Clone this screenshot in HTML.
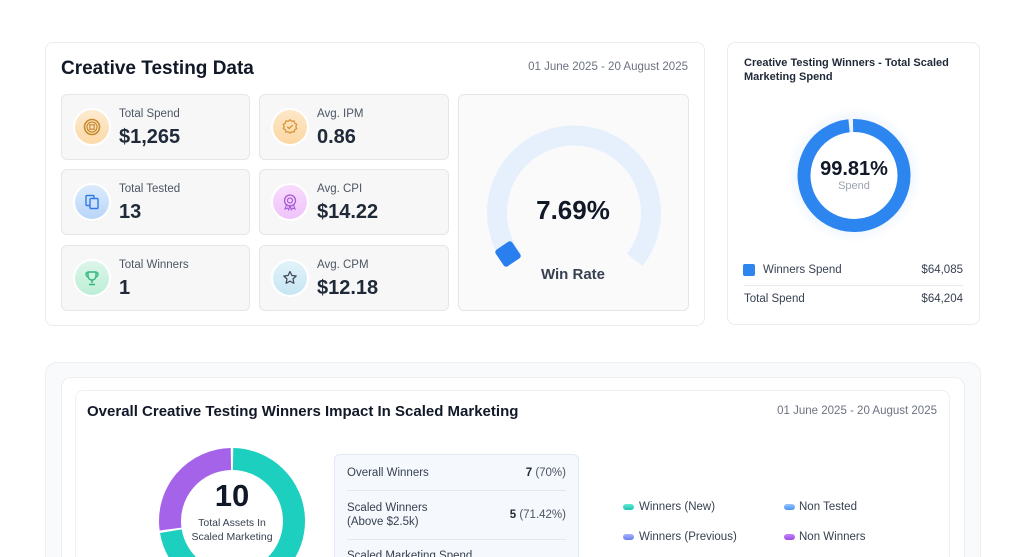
<!DOCTYPE html>
<html><head><meta charset="utf-8">
<style>
*{margin:0;padding:0;box-sizing:border-box}
html,body{width:1025px;height:557px;overflow:hidden;background:#fff;font-family:"Liberation Sans",sans-serif;}
#wrap{position:relative;width:1025px;height:557px;overflow:hidden}
.t{position:absolute;white-space:nowrap;line-height:1}
.card{position:absolute;background:#fff;border:1px solid #eaecef;border-radius:8px}
.stat{position:absolute;background:#f7f7f8;border:1px solid #e5e6e9;border-radius:6px;height:66px}
.ic{position:absolute;left:11px;top:13px;width:38px;height:38px;border-radius:50%;border:2px solid #fff;display:flex;align-items:center;justify-content:center}
.lbl{position:absolute;left:57px;top:12px;font-size:11.5px;color:#4b5563;line-height:14px;white-space:nowrap}
.val{position:absolute;left:57px;top:31px;font-size:20px;font-weight:bold;color:#1f2937;line-height:22px;white-space:nowrap}
.row{position:absolute;left:12px;right:12px;font-size:11.5px;color:#374151;line-height:14px}
.pill{position:absolute;width:11px;height:6px;border-radius:3px}
.lg{position:absolute;font-size:11.5px;color:#374151;line-height:14px;white-space:nowrap}
</style></head><body><div id="wrap">

<!-- Card 1 -->
<div class="card" style="left:45px;top:42px;width:660px;height:284px"></div>
<div class="t" style="left:61px;top:58px;font-size:19px;font-weight:bold;color:#111827;line-height:22px">Creative Testing Data</div>
<div class="t" style="right:337px;top:60px;font-size:11.5px;color:#6b7280;line-height:14px">01 June 2025 - 20 August 2025</div>

<div class="stat" style="left:61px;top:94px;width:189px">
  <div class="ic" style="background:linear-gradient(180deg,#fdebd0,#fcd9a8)">
    <svg width="18" height="18" viewBox="0 0 18 18"><circle cx="9" cy="9" r="7.5" fill="none" stroke="#c68a2e" stroke-width="1.6"/><circle cx="9" cy="9" r="5" fill="none" stroke="#c68a2e" stroke-width="1.2"/><rect x="6.8" y="6.8" width="4.4" height="4.4" fill="none" stroke="#c68a2e" stroke-width="1.2"/></svg>
  </div>
  <div class="lbl">Total Spend</div><div class="val">$1,265</div>
</div>
<div class="stat" style="left:61px;top:169px;width:189px">
  <div class="ic" style="background:linear-gradient(180deg,#dcebfd,#b9d5f9)">
    <svg width="18" height="18" viewBox="0 0 18 18"><rect x="3" y="2.5" width="8" height="10" rx="1" fill="none" stroke="#2f7be5" stroke-width="1.4"/><rect x="7" y="5.5" width="8" height="10" rx="1" fill="#cfe2fb" stroke="#2f7be5" stroke-width="1.4"/></svg>
  </div>
  <div class="lbl">Total Tested</div><div class="val">13</div>
</div>
<div class="stat" style="left:61px;top:245px;width:189px">
  <div class="ic" style="background:linear-gradient(180deg,#dcf6ea,#bdeed6)">
    <svg width="18" height="18" viewBox="0 0 18 18"><path d="M5 3h8v4a4 4 0 0 1-8 0z" fill="none" stroke="#2fb57a" stroke-width="1.4"/><path d="M5 4H3v1.5A2.5 2.5 0 0 0 5.5 8M13 4h2v1.5A2.5 2.5 0 0 1 12.5 8" fill="none" stroke="#2fb57a" stroke-width="1.2"/><path d="M9 11v3M6 15.5h6" stroke="#2fb57a" stroke-width="1.4"/></svg>
  </div>
  <div class="lbl">Total Winners</div><div class="val">1</div>
</div>

<div class="stat" style="left:259px;top:94px;width:190px">
  <div class="ic" style="background:linear-gradient(180deg,#fde8c8,#fcd7a4)">
    <svg width="18" height="18" viewBox="0 0 18 18"><path d="M9 1.8l1.8 1.5 2.3-.3.6 2.2 2 1.2-.9 2.1.9 2.1-2 1.2-.6 2.2-2.3-.3L9 15.2l-1.8-1.5-2.3.3-.6-2.2-2-1.2.9-2.1-.9-2.1 2-1.2.6-2.2 2.3.3z" fill="none" stroke="#d8963a" stroke-width="1.3"/><path d="M6.3 8.6l1.9 1.9 3.5-3.5" fill="none" stroke="#d8963a" stroke-width="1.4"/></svg>
  </div>
  <div class="lbl">Avg. IPM</div><div class="val">0.86</div>
</div>
<div class="stat" style="left:259px;top:169px;width:190px">
  <div class="ic" style="background:linear-gradient(180deg,#f8dcfd,#efc3fa)">
    <svg width="18" height="18" viewBox="0 0 18 18"><circle cx="9" cy="7.5" r="5.5" fill="none" stroke="#a65bd3" stroke-width="1.3"/><circle cx="9" cy="7.5" r="2.5" fill="none" stroke="#a65bd3" stroke-width="1.2"/><path d="M5.5 11.5L4 16l2.5-1 1.2 1.8L9 13l1.3 3.8 1.2-1.8 2.5 1-1.5-4.5" fill="none" stroke="#a65bd3" stroke-width="1.1"/></svg>
  </div>
  <div class="lbl">Avg. CPI</div><div class="val">$14.22</div>
</div>
<div class="stat" style="left:259px;top:245px;width:190px">
  <div class="ic" style="background:linear-gradient(180deg,#e2f3fa,#c6e5f3)">
    <svg width="18" height="18" viewBox="0 0 18 18"><path d="M9 2.5l1.9 4 4.3.5-3.2 3 .9 4.3L9 12.1l-3.9 2.2.9-4.3-3.2-3 4.3-.5z" fill="none" stroke="#3f4756" stroke-width="1.2" stroke-linejoin="round"/></svg>
  </div>
  <div class="lbl">Avg. CPM</div><div class="val">$12.18</div>
</div>

<div style="position:absolute;left:458px;top:94px;width:231px;height:217px;background:#fafafa;border:1px solid #e5e6e9;border-radius:6px"></div>

<!-- Card 2 -->
<div class="card" style="left:727px;top:42px;width:253px;height:283px"></div>
<div class="t" style="left:744px;top:56px;font-size:11px;font-weight:bold;color:#1f2937;line-height:14px">Creative Testing Winners - Total Scaled<br>Marketing Spend</div>

<!-- Bottom containers -->
<div style="position:absolute;left:45px;top:362px;width:936px;height:195px;background:#f9fafb;border:1px solid #eceef0;border-bottom:none;border-radius:12px 12px 0 0"></div>
<div style="position:absolute;left:61px;top:377px;width:904px;height:180px;background:#fff;border:1px solid #eceef0;border-bottom:none;border-radius:10px 10px 0 0"></div>
<div style="position:absolute;left:75px;top:390px;width:875px;height:167px;background:#fff;border:1px solid #eef0f3;border-bottom:none;border-radius:8px 8px 0 0"></div>

<div class="t" style="left:87px;top:403px;font-size:15px;font-weight:bold;color:#111827;line-height:18px">Overall Creative Testing Winners Impact In Scaled Marketing</div>
<div class="t" style="right:88px;top:404px;font-size:11.5px;color:#6b7280;line-height:14px">01 June 2025 - 20 August 2025</div>

<!-- Table box -->
<div style="position:absolute;left:334px;top:454px;width:245px;height:103px;overflow:hidden;background:#f5f8fc;border:1px solid #e1e9f3;border-bottom:none;border-radius:6px 6px 0 0">
  <div class="row" style="top:11px">Overall Winners<span style="position:absolute;right:0"><b style="color:#1f2937">7</b> <span style="color:#4b5563">(70%)</span></span></div>
  <div style="position:absolute;left:12px;right:12px;top:35px;height:1px;background:#e3e8ee"></div>
  <div class="row" style="top:46px">Scaled Winners<br>(Above $2.5k)<span style="position:absolute;right:0;top:7px"><b style="color:#1f2937">5</b> <span style="color:#4b5563">(71.42%)</span></span></div>
  <div style="position:absolute;left:12px;right:12px;top:84px;height:1px;background:#e3e8ee"></div>
  <div class="row" style="top:94px">Scaled Marketing Spend</div>
</div>

<!-- Legend -->
<div class="pill" style="left:623px;top:504px;background:linear-gradient(180deg,#5eead4,#22c5b5)"></div>
<div class="lg" style="left:639px;top:500px">Winners (New)</div>
<div class="pill" style="left:784px;top:504px;background:linear-gradient(180deg,#93c5fd,#4f94f0)"></div>
<div class="lg" style="left:799px;top:500px">Non Tested</div>
<div class="pill" style="left:623px;top:534px;background:linear-gradient(180deg,#a5b4fc,#6d7ff0)"></div>
<div class="lg" style="left:639px;top:530px">Winners (Previous)</div>
<div class="pill" style="left:784px;top:534px;background:linear-gradient(180deg,#c084fc,#9d4fe0)"></div>
<div class="lg" style="left:799px;top:530px">Non Winners</div>

<!-- Graphics -->
<svg style="position:absolute;left:0;top:0" width="1025" height="557" viewBox="0 0 1025 557">
  <defs>
    <radialGradient id="glow" cx="0.5" cy="0.5" r="0.5">
      <stop offset="0.6" stop-color="#2d86f0" stop-opacity="0.14"/>
      <stop offset="1" stop-color="#2d86f0" stop-opacity="0"/>
    </radialGradient>
  </defs>
  <path d="M 513.3 259.9 A 77 77 0 1 1 634.7 259.9" fill="none" stroke="#e6f0fd" stroke-width="20"/>
  <rect x="498" y="244" width="20" height="20" rx="3" fill="#2a7fef" transform="rotate(-34 508 254)"/>
  <circle cx="854" cy="175.5" r="68" fill="url(#glow)"/>
  <circle cx="854" cy="175.5" r="43.5" fill="#fff"/>
  <path d="M 853.04 125.51 A 50 50 0 1 1 849.03 125.75" fill="none" stroke="#2d86f0" stroke-width="13"/>
  <path d="M 233.08 459.01 A 62 62 0 1 1 170.85 531.23" fill="none" stroke="#1ccfbf" stroke-width="22"/>
  <path d="M 170.53 529.09 A 62 62 0 0 1 230.92 459.01" fill="none" stroke="#a563ea" stroke-width="22"/>
</svg>

<div class="t" style="left:473px;width:200px;text-align:center;top:196px;font-size:26px;font-weight:bold;color:#111827;line-height:28px">7.69%</div>
<div class="t" style="left:473px;width:200px;text-align:center;top:266px;font-size:15px;font-weight:bold;color:#374151;line-height:17px">Win Rate</div>

<div class="t" style="left:794px;width:120px;text-align:center;top:158px;font-size:20px;font-weight:bold;color:#111827;line-height:23px">99.81%</div>
<div class="t" style="left:794px;width:120px;text-align:center;top:180px;font-size:11px;color:#9ca3af;line-height:13px">Spend</div>

<div style="position:absolute;left:743px;top:264px;width:12px;height:12px;border-radius:2px;background:#2d86f0"></div>
<div class="t" style="left:763px;top:263px;font-size:11.5px;color:#374151;line-height:14px">Winners Spend</div>
<div class="t" style="right:62px;top:263px;font-size:11.5px;color:#374151;line-height:14px">$64,085</div>
<div style="position:absolute;left:744px;top:285px;width:219px;height:1px;background:#e8eaed"></div>
<div class="t" style="left:744px;top:292px;font-size:11.5px;color:#374151;line-height:14px">Total Spend</div>
<div class="t" style="right:62px;top:292px;font-size:11.5px;color:#374151;line-height:14px">$64,204</div>

<div class="t" style="left:172px;width:120px;text-align:center;top:480px;font-size:31px;font-weight:bold;color:#111827;line-height:32px">10</div>
<div class="t" style="left:172px;width:120px;text-align:center;top:516px;font-size:10.5px;color:#374151;line-height:14px">Total Assets In<br>Scaled Marketing</div>

</div></body></html>
